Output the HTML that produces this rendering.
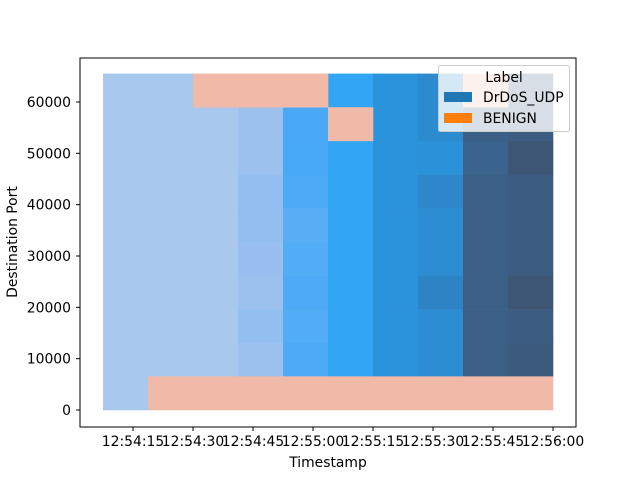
<!DOCTYPE html>
<html><head><meta charset="utf-8"><style>
body{margin:0;background:#fff;position:relative;width:640px;height:480px;overflow:hidden}
svg{display:block;font-family:"DejaVu Sans","Liberation Sans",sans-serif;}
</style></head><body>
<svg id="chart" width="640" height="480" viewBox="0 0 640 480">
<rect width="640" height="480" fill="#fff"/>
<g id="cells"></g>
<g id="axes"></g>
</svg>
<script>
// time bins (seconds after 12:54:00), port bins
const timeStart = 7.5;
const timeBinWidth = 11.25;
const portStart = 0;
const portBinWidth = 6553.5;
const xTickSeconds = [15, 30, 45, 60, 75, 90, 105, 120];
const xTickLabels = ["12:54:15","12:54:30","12:54:45","12:55:00","12:55:15","12:55:30","12:55:45","12:56:00"];
const yTicks = [0, 10000, 20000, 30000, 40000, 50000, 60000];
// DrDoS_UDP intensity per [row from bottom][column]; null = no DrDoS cell
const drdosRow0 = [0.05,null,null,null,null,null,null,null,null,null];
const drdosRow1 = [0.05,0.05,0.05,0.2,0.36,0.5,0.65,0.7,0.9,0.94];
const drdosRow2 = [0.05,0.05,0.05,0.22,0.34,0.5,0.65,0.7,0.9,0.92];
const drdosRow3 = [0.05,0.05,0.05,0.2,0.35,0.5,0.65,0.76,0.9,0.98];
const drdosRow4 = [0.05,0.05,0.05,0.21,0.34,0.5,0.65,0.7,0.9,0.92];
const drdosRow5 = [0.05,0.05,0.05,0.22,0.33,0.51,0.65,0.7,0.9,0.92];
const drdosRow6 = [0.05,0.05,0.05,0.22,0.36,0.51,0.65,0.74,0.9,0.92];
const drdosRow7 = [0.05,0.05,0.05,0.2,0.38,0.5,0.65,0.66,0.88,0.98];
const drdosRow8 = [0.05,0.05,0.05,0.2,0.37,null,0.65,0.72,0.9,0.92];
const drdosRow9 = [0.05,0.05,null,null,null,0.5,0.65,0.72,null,0.92];
const drdos = [drdosRow0,drdosRow1,drdosRow2,drdosRow3,drdosRow4,drdosRow5,drdosRow6,drdosRow7,drdosRow8,drdosRow9];
// BENIGN cells: [row, column]
const benignRows = [0,0,0,0,0,0,0,0,0,8,9,9,9,9];
const benignCols = [1,2,3,4,5,6,7,8,9,5,2,3,4,8];

const L=80,R=576,T=58,B=427;
const x0=103, pxPerSec=4;
function xs(s){return x0+(s-timeStart)*pxPerSec;}
function ys(v){return 410-v*308/60000;}
const stops=[[0,[173,202,238]],[0.2,[157,193,239]],[0.35,[78,170,246]],[0.5,[50,166,245]],[0.65,[43,147,219]],[0.75,[45,134,200]],[0.9,[60,95,133]],[1,[61,84,112]]];
function blue(t){for(let i=1;i<stops.length;i++){if(t<=stops[i][0]){const a=stops[i-1],b=stops[i];const f=(t-a[0])/(b[0]-a[0]);return 'rgb('+a[1].map((c,k)=>Math.round(c+(b[1][k]-c)*f)).join(',')+')';}}return 'rgb(61,84,112)';}
const NS='http://www.w3.org/2000/svg';
const cells=document.getElementById('cells'), axes=document.getElementById('axes');
function mk(tag,attrs,parent){const e=document.createElementNS(NS,tag);for(const k in attrs)e.setAttribute(k,attrs[k]);parent.appendChild(e);return e;}
function cellRect(r,c,fill){
  const xa=xs(timeStart+c*timeBinWidth), xb=xs(timeStart+(c+1)*timeBinWidth);
  const ya=ys(portStart+(r+1)*portBinWidth), yb=ys(portStart+r*portBinWidth);
  return mk('rect',{x:xa,y:ya,width:xb-xa+0.3,height:yb-ya+0.3,fill:fill},cells);
}
drdos.forEach((row,r)=>row.forEach((v,c)=>{if(v===null)return;
  const e=cellRect(r,c,blue(v));
  
  
}));
benignRows.forEach((r,i)=>{
  const e=cellRect(r,benignCols[i],'#f1b9a7');
  
  
});
const sp=mk('rect',{x:L,y:T,width:R-L,height:B-T,fill:'none',stroke:'#000','stroke-width':1},axes);


xTickSeconds.forEach((s,i)=>{
  const x=xs(s);
  mk('line',{x1:x,x2:x,y1:B,y2:B+4,stroke:'#000'},axes);
  const t=mk('text',{x:x,y:446,'font-size':13.9,'text-anchor':'middle'},axes);
  t.textContent=xTickLabels[i];
  
  
});
yTicks.forEach(v=>{
  const y=ys(v);
  mk('line',{x1:L-4,x2:L,y1:y,y2:y,stroke:'#000'},axes);
  const t=mk('text',{x:71,y:y+5,'font-size':13.9,'text-anchor':'end'},axes);
  t.textContent=String(v);
  
  
});
</script>
<svg style="position:absolute;left:0;top:0;font-family:'DejaVu Sans','Liberation Sans',sans-serif" width="640" height="480">
<text x="328" y="467" font-size="13.9" text-anchor="middle">Timestamp</text>
<text x="17" y="242" font-size="13.9" text-anchor="middle" transform="rotate(-90 17 242)">Destination Port</text>
<g>
<rect x="438.5" y="65.5" width="131" height="66" rx="2" fill="#fff" fill-opacity="0.8" stroke="#ccc"/>
<text x="504" y="82" font-size="13.9" text-anchor="middle">Label</text>
<rect x="444" y="92" width="28" height="10" fill="#1f77b4"/>
<text x="483" y="102" font-size="13.9">DrDoS_UDP</text>
<rect x="444" y="113" width="28" height="10" fill="#ff7f0e"/>
<text x="483" y="123" font-size="13.9">BENIGN</text>
</g>
</svg>
</body></html>
